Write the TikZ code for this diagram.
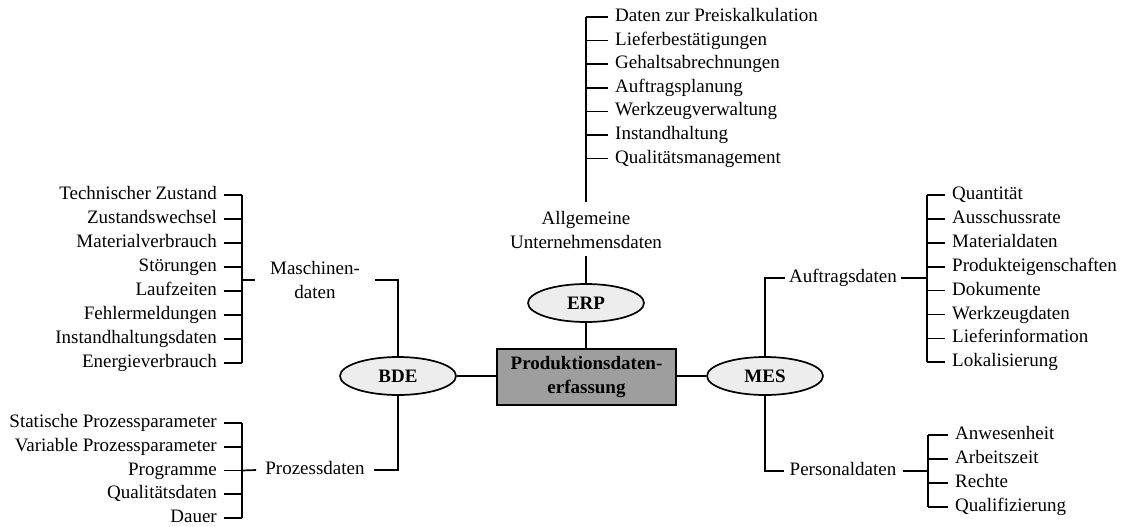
\documentclass[tikz,border=0pt]{standalone}
\usepackage{fontspec}
\setmainfont{Liberation Serif}
\usetikzlibrary{shapes.geometric}
\begin{document}
\begin{tikzpicture}[x=1pt,y=-1pt,
  every node/.style={font=\fontsize{19}{24}\selectfont},
  ln/.style={line width=1.7pt},
  stub/.style={line width=2.8pt},
  itemL/.style={anchor=east, inner xsep=7pt, inner ysep=0pt, text height=13pt, text depth=4pt},
  itemR/.style={anchor=west, inner xsep=7pt, inner ysep=0pt, text height=13pt, text depth=4pt},
  lab/.style={align=center, inner ysep=0pt, text height=13pt, text depth=4pt},
  lab2/.style={align=center, inner ysep=0pt},
  ell/.style={ellipse, draw, line width=1.7pt, fill=black!7, minimum width=116pt, minimum height=38pt, inner sep=0pt, font=\fontsize{19}{24}\selectfont\bfseries},
  mainbox/.style={draw, line width=1.7pt, fill=black!38, minimum width=179pt, minimum height=56pt, inner sep=0pt, align=center, font=\fontsize{19}{24}\selectfont\bfseries}]
\useasboundingbox (0,0) rectangle (1121,527);

% central nodes
\node[mainbox] (box) at (586.5,377) {Produktionsdaten-\\erfassung};
\node[ell] (erp) at (586,303) {ERP};
\node[ell] (bde) at (398,376) {BDE};
\node[ell] (mes) at (765,376) {MES};

\draw[ln] (bde.east) -- (bde.east -| box.west);
\draw[ln] (mes.west) -- (mes.west -| box.east);
\draw[ln] (erp.south) -- (erp.south |- box.north);

% ERP branch
\node[lab2, inner sep=0pt] (allg) at (586,230) {Allgemeine\\Unternehmensdaten};
\coordinate (ev) at (586,0);
\coordinate (elow) at (586,202);
\coordinate (ehigh) at (586,256);
\draw[ln] (erp.north) -- (ehigh);
\foreach \t [count=\i] in {Daten zur Preiskalkulation,Lieferbest\"atigungen,Gehaltsabrechnungen,Auftragsplanung,Werkzeugverwaltung,Instandhaltung,Qualit\"atsmanagement}{
  \node[itemR] (e\i) at (608,{17+23.6*(\i-1)}) {\t};
  \draw[ln] (e\i.west -| ev) -- (e\i.west);
}
\draw[ln] (e1.west -| ev) -- (elow);

% BDE: Maschinendaten
\node[lab2, inner xsep=15pt] (mlab) at (315,280) {Maschinen-\\daten};
\coordinate (mv) at (242,0);
\draw[ln] (bde.north) |- (mlab.east);
\foreach \t [count=\i] in {Technischer Zustand,Zustandswechsel,Materialverbrauch,St\"orungen,Laufzeiten,Fehlermeldungen,Instandhaltungsdaten,Energieverbrauch}{
  \node[itemL] (m\i) at (224,{195+24*(\i-1)}) {\t};
  \draw[ln] (m\i.east) -- (m\i.east -| mv);
}
\draw[ln] (m1.east -| mv) -- (m8.east -| mv);
\draw[stub] (mv |- mlab.west) -- (mlab.west);

% BDE: Prozessdaten
\node[lab, inner xsep=9pt] (plab) at (315,470) {Prozessdaten};
\draw[ln] (bde.south) |- (plab.east);
\foreach \t [count=\i] in {Statische Prozessparameter,Variable Prozessparameter,Programme,Qualit\"atsdaten,Dauer}{
  \node[itemL] (p\i) at (224,{423+23.75*(\i-1)}) {\t};
  \draw[ln] (p\i.east) -- (p\i.east -| mv);
}
\draw[ln] (p1.east -| mv) -- (p5.east -| mv);
\draw[ln] (p3.east -| mv) -- (plab.west);

% MES: Auftragsdaten
\node[lab, inner xsep=4pt] (alab) at (843,278) {Auftragsdaten};
\coordinate (av) at (927,0);
\draw[ln] (mes.north) |- (alab.west);
\draw[stub] (alab.east) -- (alab.east -| av);
\foreach \t [count=\i] in {Quantit\"at,Ausschussrate,Materialdaten,Produkteigenschaften,Dokumente,Werkzeugdaten,Lieferinformation,Lokalisierung}{
  \node[itemR] (a\i) at (945,{195+23.9*(\i-1)}) {\t};
  \draw[ln] (a\i.west -| av) -- (a\i.west);
}
\draw[ln] (a1.west -| av) -- (a8.west -| av);

% MES: Personaldaten
\node[lab, inner xsep=6pt] (plb) at (843,471) {Personaldaten};
\coordinate (pv) at (928,0);
\draw[ln] (mes.south) |- (plb.west);
\draw[stub] (plb.east) -- (plb.east -| pv);
\foreach \t [count=\i] in {Anwesenheit,Arbeitszeit,Rechte,Qualifizierung}{
  \node[itemR] (q\i) at (948,{435+24*(\i-1)}) {\t};
  \draw[ln] (q\i.west -| pv) -- (q\i.west);
}
\draw[ln] (q1.west -| pv) -- (q4.west -| pv);
\end{tikzpicture}
\end{document}
